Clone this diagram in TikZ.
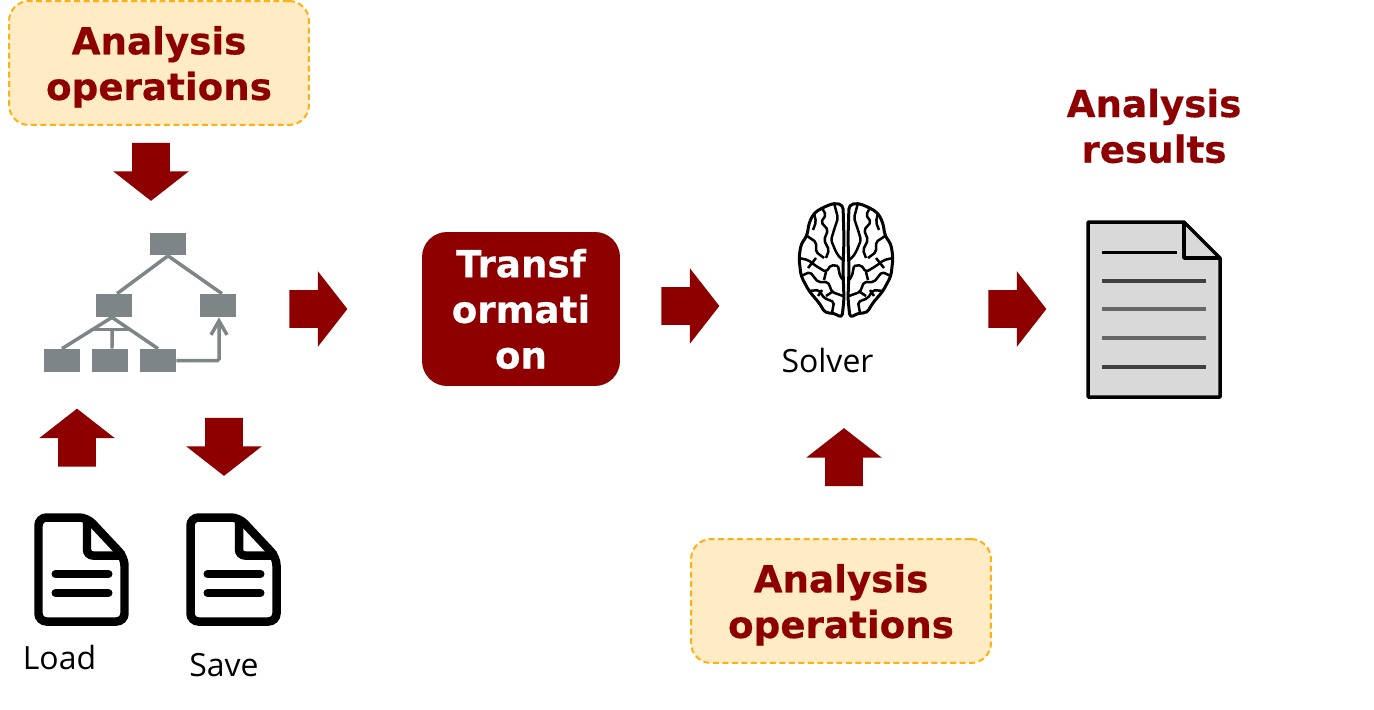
\documentclass[tikz,border=0pt]{standalone}
\usepackage{fontspec}
\setmainfont{Open Sans}
\newfontfamily\headfont[BoldFeatures={FakeBold=0.5}]{DejaVu Sans}
\usetikzlibrary{shapes.arrows,arrows.meta}
\definecolor{darkred}{RGB}{142,0,0}
\definecolor{treegray}{RGB}{125,133,135}
\definecolor{opfill}{RGB}{255,235,196}
\definecolor{opline}{RGB}{255,176,20}
\tikzset{
  headtext/.style = {font=\headfont\bfseries\fontsize{21.2}{26}\selectfont,
                     align=center, text=darkred},
  opbox/.style    = {headtext, shape=rectangle, draw=opline, fill=opfill,
                     line width=0.04cm, dash pattern=on 0.12cm off 0.07cm,
                     rounded corners=0.4cm, minimum width=6cm,
                     minimum height=2.48cm, inner sep=0pt, text depth=0pt},
  transbox/.style = {font=\headfont\bfseries\fontsize{21.2}{26}\selectfont,
                     align=center, text=white, fill=darkred,
                     rounded corners=0.5cm, minimum width=3.96cm,
                     minimum height=3.08cm, inner sep=0pt},
  blockarrow/.style = {shape=single arrow, fill=darkred, inner sep=0pt,
                     text height=0.74cm, text depth=0pt,
                     minimum height=1.16cm, minimum width=1.5cm,
                     single arrow head extend=0.38cm,
                     single arrow tip angle=104},
  treebox/.style  = {fill=treegray, minimum width=0.72cm,
                     minimum height=0.46cm, inner sep=0pt},
  treeedge/.style = {draw=treegray, line width=0.07cm},
  caption/.style  = {font=\fontsize{18.2}{22}\selectfont, inner sep=0pt},
  pics/docicon/.style = {code={
    \draw [line width=0.17cm, rounded corners=0.16cm]
      (-43,-52) -- (5.5,-52) -- (43,-12) -- (43,52) -- (-43,52) -- cycle;
    \draw [line width=0.17cm, rounded corners=0.12cm]
      (5.5,-52) -- (5.5,-14) -- (43,-14);
    \draw [line width=0.16cm, line cap=round] (-26,4.5) -- (27,4.5);
    \draw [line width=0.16cm, line cap=round] (-26,23.5) -- (27,23.5);
  }},
  pics/brainlobe/.style = {code={
    \draw [line width=0.06cm, rounded corners=0.08cm, line join=round, fill=white]
      (-3,-55) -- (-12,-57) -- (-24,-52) -- (-32,-47) -- (-37,-37) -- (-39,-24)
      -- (-45,-16) -- (-47,-2) -- (-45,16) -- (-37,31) -- (-26,44) -- (-21,53)
      -- (-12,53) -- (-4,58) -- (-2,39) -- (-3,9) -- (-2,-21) -- cycle;
    \draw [line width=0.05cm, rounded corners=0.04cm, line join=round]
      (-24,-52) -- (-20,-45) -- (-25,-38) -- (-18,-30) -- (-22,-20) -- (-17,-10) -- (-20,-2)
      (-12,-57) -- (-8,-42) -- (-12,-30) -- (-15,-20) -- (-10,-8) -- (-6,-2) -- (-3,0)
      (-39,-24) -- (-30,-18) -- (-30,-8) -- (-22,-2)
      (-47,-2) -- (-38,0) -- (-30,6) -- (-20,12) -- (-15,5) -- (-8,6)
      (-45,16) -- (-36,12) -- (-28,22) -- (-18,22) -- (-14,32) -- (-3,36)
      (-37,31) -- (-27,30) -- (-22,38) -- (-12,42) -- (-14,53)
      (-32,-47) -- (-30,-38) -- (-33,-30)
      (-38,8) -- (-30,-2)
      (-20,12) -- (-22,20)
      (-14,32) -- (-20,36)
      (-8,6) -- (-6,16) -- (-3,20)
      (-28,36) -- (-24,30);
  }}
}
\begin{document}
\begin{tikzpicture}[x=0.02cm, y=-0.02cm]
\useasboundingbox (0,0) rectangle (1374,710);

% operations and results
\node [opbox] (opstop) at (159,63) {Analysis\\operations};
\node [opbox] (opsbottom) at (841,601) {Analysis\\operations};
\node [headtext, inner sep=0pt] (results) at (1154,126) {Analysis\\results};
\node [transbox] (transform) at (521,309) {Transf\\ormati\\on};

% block arrows
\node [blockarrow, rotate=-90] (arrowtop) at (151,164.5) {};
\node [blockarrow] (arrowtree) at (311,309) {};
\node [blockarrow] (arrowsolver) at (683,306) {};
\node [blockarrow] (arrowresults) at (1010,309) {};
\node [blockarrow, rotate=90] (arrowload) at (77,445) {};
\node [blockarrow, rotate=-90] (arrowsave) at (224,439.5) {};
\node [blockarrow, rotate=90] (arrowops) at (844,464.5) {};

% tree
\node [treebox] (treeroot) at (168,244) {};
\node [treebox] (treeleft) at (114,305.5) {};
\node [treebox] (treeright) at (218,305.5) {};
\node [treebox] (leafa) at (62,360.5) {};
\node [treebox] (leafb) at (110,360.5) {};
\node [treebox] (leafc) at (158,360.5) {};
\draw [treeedge] (treeroot.south) -- ([xshift=0.06cm]treeleft.north);
\draw [treeedge] (treeroot.south) -- ([xshift=0.08cm]treeright.north);
\draw [treeedge] ([xshift=-0.04cm]treeleft.south) -- (leafa.north);
\draw [treeedge] ([xshift=-0.04cm]treeleft.south) -- (leafc.north);
\draw [treeedge] ([xshift=-0.44cm,yshift=-0.24cm]treeleft.south) -- ([xshift=0.34cm,yshift=-0.24cm]treeleft.south);
\draw [treeedge] ([xshift=-0.04cm,yshift=-0.24cm]treeleft.south) -- ([xshift=0.04cm]leafb.north);
\draw [treeedge, rounded corners=0.03cm, -{Straight Barb[length=0.28cm,width=0.32cm]}]
  (leafc.east) -| ([xshift=0.02cm]treeright.south);

% file icons
\pic at (81.5,569.5) {docicon};
\pic at (233.5,569.5) {docicon};
\node [caption] (loadlabel) at (59.5,658) {Load};
\node [caption] (savelabel) at (224,665) {Save};

% solver
\pic at (846,260) {brainlobe};
\pic [xscale=-1] at (846,260) {brainlobe};
\node [caption] (solverlabel) at (827.5,361) {Solver};

% result page
\draw [line width=0.07cm, line join=round, fill=black!15]
  (1088,222) -- (1184,222) -- (1220,258) -- (1220,397) -- (1088,397) -- cycle;
\draw [line width=0.07cm, line join=round] (1184,222) -- (1184,258) -- (1220,258);
\draw [line width=0.06cm] (1102,252) -- (1177,252);
\draw [line width=0.07cm, black!75] (1102,281) -- (1206,281);
\draw [line width=0.09cm, black!60] (1102,309) -- (1206,309);
\draw [line width=0.09cm, black!60] (1102,338) -- (1206,338);
\draw [line width=0.07cm, black!75] (1102,367) -- (1206,367);
\end{tikzpicture}
\end{document}
